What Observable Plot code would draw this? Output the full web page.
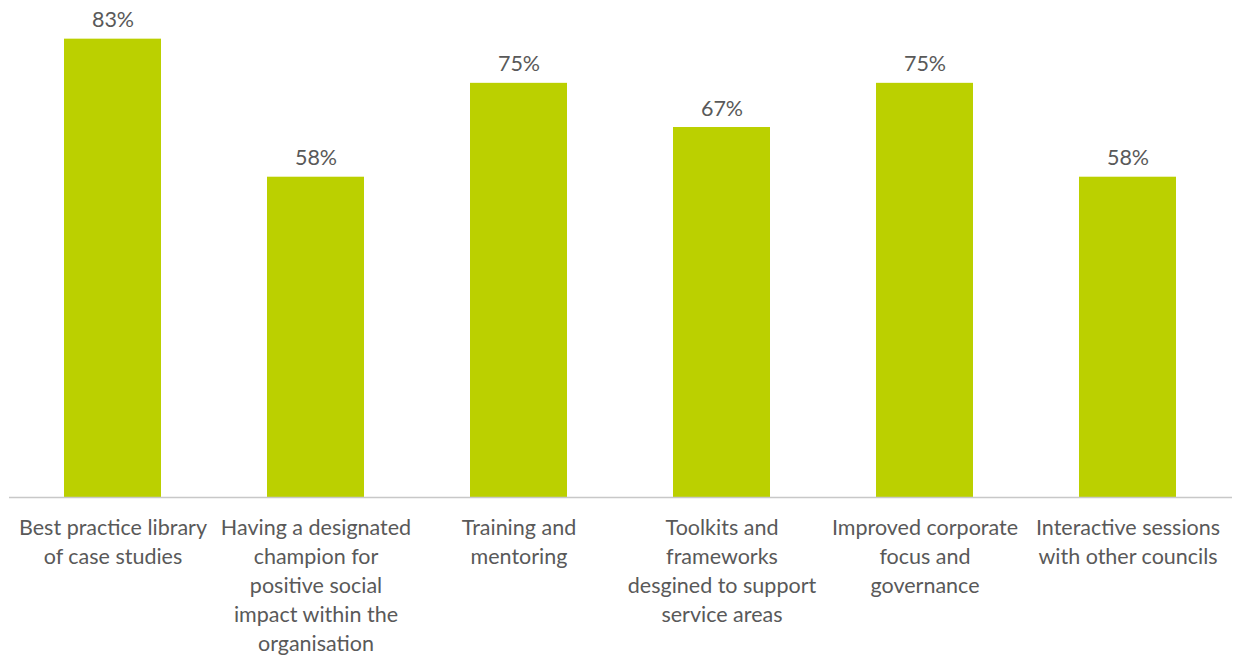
<!DOCTYPE html>
<html>
<head>
<meta charset="utf-8">
<script src="https://cdn.jsdelivr.net/npm/d3@7"></script>
<script src="https://cdn.jsdelivr.net/npm/@observablehq/plot@0.6"></script>
<style>
  html, body { margin: 0; padding: 0; background: #fff; }
  #chart svg { display: block; }
</style>
</head>
<body>
<div id="chart"></div>
<script>
const categories = [
  "Best practice library of case studies",
  "Having a designated champion for positive social impact within the organisation",
  "Training and mentoring",
  "Toolkits and frameworks desgined to support service areas",
  "Improved corporate focus and governance",
  "Interactive sessions with other councils"
];
const tickLabels = [
  "Best practice library\nof case studies",
  "Having a designated\nchampion for\npositive social\nimpact within the\norganisation",
  "Training and\nmentoring",
  "Toolkits and\nframeworks\ndesgined to support\nservice areas",
  "Improved corporate\nfocus and\ngovernance",
  "Interactive sessions\nwith other councils"
];
const values = [0.83, 0.58, 0.75, 0.67, 0.75, 0.58];

const data = categories.map((c, i) => ({category: c, value: values[i], label: tickLabels[i]}));
const labelOf = new Map(data.map(d => [d.category, d.label]));

const chart = Plot.plot({
  width: 1233,
  height: 657,
  marginTop: 0,
  marginLeft: 9,
  marginRight: 1,
  marginBottom: 160,
  style: {fontFamily: "Lato, 'Open Sans', sans-serif", color: "#595959", background: "#fff"},
  x: {domain: categories, paddingInner: 0.52, paddingOuter: 0.26, label: null},
  y: {domain: [0, 0.9], axis: null},
  marks: [
    Plot.barY(data, {x: "category", y: "value", fill: "#BBD000"}),
    Plot.ruleY([0], {stroke: "#C8C8C8", strokeWidth: 1.5}),
    Plot.text(data, {x: "category", y: "value", text: d => Math.round(d.value * 100) + "%",
      dy: -12, lineAnchor: "bottom", fontSize: 21.5, fill: "#595959"}),
    Plot.axisX({tickSize: 0, tickPadding: 17, fontSize: 21.5, lineHeight: 1.35, fill: "#595959",
      tickFormat: c => labelOf.get(c), lineAnchor: "top", label: null})
  ]
});
document.getElementById("chart").append(chart);
</script>
</body>
</html>
